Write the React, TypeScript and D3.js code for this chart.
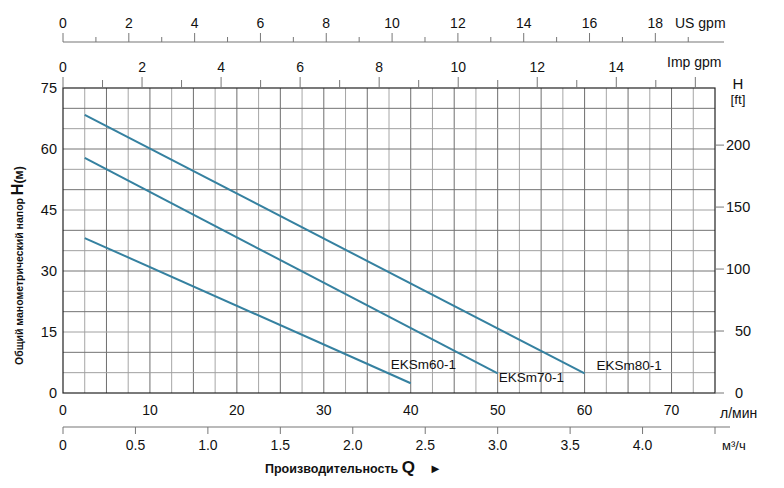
import { scaleLinear, line, range } from "d3";

// flow in л/мин, head in м
const flowTicks = [0, 10, 20, 30, 40, 50, 60, 70];
const headTicks = [0, 15, 30, 45, 60, 75];
const ftTicks = [0, 50, 100, 150, 200];
const usGpmLabels = [0, 2, 4, 6, 8, 10, 12, 14, 16, 18];
const impGpmLabels = [0, 2, 4, 6, 8, 10, 12, 14];
const m3hLabels = [0, 0.5, 1.0, 1.5, 2.0, 2.5, 3.0, 3.5, 4.0];

const seriesNames = ["EKSm60-1", "EKSm70-1", "EKSm80-1"];
const flow60 = [2.5, 40];
const head60 = [38.1, 2.4];
const flow70 = [2.5, 50];
const head70 = [57.8, 4.8];
const flow80 = [2.5, 60];
const head80 = [68.4, 4.8];

const W = 784;
const H = 488;
const left = 63;
const right = 715;
const top = 88;
const bottom = 393;
const font = "'Liberation Sans', Arial, sans-serif";
const curveColor = "#3581a0";

export default function App() {
  const x = scaleLinear().domain([0, 75]).range([left, right]);
  const y = scaleLinear().domain([0, 75]).range([bottom, top]);
  const xUs = scaleLinear().domain([0, 75 * 0.264172]).range([left, right]);
  const xImp = scaleLinear().domain([0, 75 / 4.54609]).range([left, right]);
  const xM3 = scaleLinear().domain([0, 4.5]).range([left, right]);
  const yFt = scaleLinear().domain([0, 75 * 3.28084]).range([bottom, top]);

  const series = [
    { name: seriesNames[0], q: flow60, h: head60, dx: -20, dy: -14 },
    { name: seriesNames[1], q: flow70, h: head70, dx: 1, dy: 9 },
    { name: seriesNames[2], q: flow80, h: head80, dx: 12, dy: -3 },
  ];

  const vGrid = range(2.5, 75, 2.5);
  const hGrid = range(5, 75, 5);
  const usMinor = range(0, 20, 1);
  const impMinor = range(0, 17, 1);

  return (
    <svg
      width={W}
      height={H}
      style={{ position: "absolute", left: 0, top: 0, background: "#fff" }}
      fontFamily={font}
    >
      {/* grid */}
      {vGrid.map((v) => (
        <line
          key={"v" + v}
          x1={x(v)}
          x2={x(v)}
          y1={top}
          y2={bottom}
          stroke={v % 5 === 0 ? "#6e6e6e" : "#a6a6a6"}
          strokeWidth={1}
        />
      ))}
      {hGrid.map((v) => (
        <line
          key={"h" + v}
          x1={left}
          x2={right}
          y1={y(v)}
          y2={y(v)}
          stroke={v % 10 === 0 ? "#747474" : "#a0a0a0"}
          strokeWidth={1}
        />
      ))}
      <rect x={left} y={top} width={right - left} height={bottom - top} fill="none" stroke="#222" strokeWidth={1.2} />

      {/* curves */}
      {series.map((s) => {
        const pts: [number, number][] = s.q.map((q, i) => [x(q), y(s.h[i])]);
        const d = line()(pts) ?? "";
        const end = pts[pts.length - 1];
        return (
          <g key={s.name}>
            <path d={d} fill="none" stroke={curveColor} strokeWidth={2} />
            <text x={end[0] + s.dx} y={end[1] + s.dy} fontSize={13.5} fill="#111">
              {s.name}
            </text>
          </g>
        );
      })}

      {/* left axis */}
      {headTicks.map((t) => (
        <text key={"l" + t} x={57} y={y(t) + 5} textAnchor="end" fontSize={14.5} fill="#111">
          {t}
        </text>
      ))}
      <text transform={`translate(23, ${(top + bottom) / 2 + 25}) rotate(-90)`} textAnchor="middle" fill="#111" fontWeight="bold">
        <tspan fontSize={10.5}>Общий манометрический напор </tspan>
        <tspan fontSize={16}>H</tspan>
        <tspan fontSize={12.5}>(м)</tspan>
      </text>

      {/* right axis, ft */}
      {ftTicks.map((t) => (
        <g key={"r" + t}>
          <line x1={right} x2={right + 9} y1={yFt(t)} y2={yFt(t)} stroke="#777" />
          <text x={t >= 100 ? 726 : 735} y={yFt(t) + 5} fontSize={14.5} fill="#111">
            {t}
          </text>
        </g>
      ))}
      <text x={738} y={89} textAnchor="middle" fontSize={15} fill="#111">H</text>
      <text x={738} y={104} textAnchor="middle" fontSize={13.5} fill="#111">[ft]</text>

      {/* top axis, US gpm */}
      <line x1={left} x2={724} y1={42} y2={42} stroke="#777" strokeWidth={1.2} />
      {usMinor.map((t) => (
        <line key={"us" + t} x1={xUs(t)} x2={xUs(t)} y1={t % 2 === 0 ? 33 : 37} y2={42} stroke="#777" />
      ))}
      {usGpmLabels.map((t) => (
        <text key={"usl" + t} x={xUs(t)} y={28} textAnchor="middle" fontSize={14} fill="#111">
          {t}
        </text>
      ))}
      <text x={675} y={28} fontSize={14} fill="#111">US gpm</text>

      {/* top axis, Imp gpm */}
      {impMinor.map((t) => (
        <line key={"imp" + t} x1={xImp(t)} x2={xImp(t)} y1={t % 2 === 0 ? 77 : 80} y2={top} stroke="#777" />
      ))}
      {impGpmLabels.map((t) => (
        <text key={"impl" + t} x={xImp(t)} y={72} textAnchor="middle" fontSize={14} fill="#111">
          {t}
        </text>
      ))}
      <text x={667} y={67} fontSize={14} fill="#111">Imp gpm</text>

      {/* bottom axis, л/мин */}
      {flowTicks.map((t) => (
        <text key={"b" + t} x={x(t)} y={415} textAnchor="middle" fontSize={14} fill="#111">
          {t}
        </text>
      ))}
      <text x={720} y={418} fontSize={14} fill="#111">л/мин</text>

      {/* bottom axis, м³/ч */}
      <line x1={left} x2={730} y1={427} y2={427} stroke="#777" strokeWidth={1.2} />
      {range(0, 4.51, 0.5).map((t) => (
        <line key={"m" + t} x1={xM3(t)} x2={xM3(t)} y1={427} y2={434} stroke="#777" />
      ))}
      {m3hLabels.map((t) => (
        <text key={"ml" + t} x={xM3(t)} y={450} textAnchor="middle" fontSize={14} fill="#111">
          {t === 0 ? "0" : t.toFixed(1)}
        </text>
      ))}
      <text x={722} y={450} fontSize={13} fill="#111">м³/ч</text>

      <text x={265} y={473} fill="#111" fontWeight="bold">
        <tspan fontSize={12.5}>Производительность </tspan>
        <tspan fontSize={17}>Q</tspan>
        <tspan fontSize={13} dx={14}>►</tspan>
      </text>
    </svg>
  );
}
